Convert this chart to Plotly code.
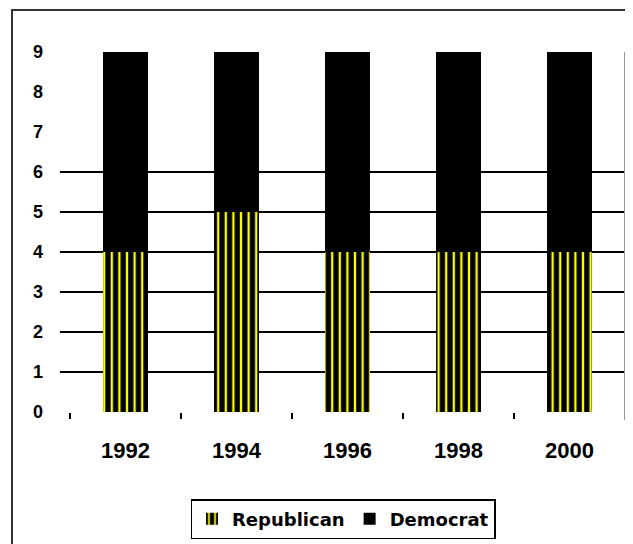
import plotly.graph_objects as go

years = ["1992", "1994", "1996", "1998", "2000"]
republican = [4, 5, 4, 4, 4]
democrat = [5, 4, 5, 5, 5]
y_ticks = [0, 1, 2, 3, 4, 5, 6, 7, 8, 9]
grid_levels = [1, 2, 3, 4, 5, 6]

W, H = 633, 544
OFF = 8  # page body margin
L, R, T, B = 62, 16, 44, 140
pw, ph = W - L - R, H - T - B

def px_x(p):
    return (p - OFF - L) / pw

def px_y(p):
    return (H - B - (p - OFF)) / ph

fig = go.Figure()
fig.add_trace(go.Bar(
    x=years, y=republican, name="Republican",
    marker=dict(color="black", line=dict(width=0),
                pattern=dict(shape="|", fgcolor="#ffff00", bgcolor="black",
                             size=7.6, solidity=0.3, fillmode="replace")),
))
fig.add_trace(go.Bar(
    x=years, y=democrat, name="Democrat",
    marker=dict(color="black", line=dict(width=0)),
))

shapes = []
for g in grid_levels:
    shapes.append(dict(type="line", xref="paper", yref="y", x0=px_x(60), x1=1, y0=g, y1=g,
                       line=dict(color="black", width=2), layer="below"))
# right edge of plot area
shapes.append(dict(type="line", xref="paper", yref="paper", x0=1, x1=1, y0=px_y(420), y1=1,
                   line=dict(color="#999999", width=2)))
# outer chart border
shapes.append(dict(type="rect", xref="paper", yref="paper", x0=px_x(12), x1=px_x(700),
                   y0=px_y(600), y1=px_y(10), line=dict(color="#333333", width=2)))

fig.update_layout(
    width=W, height=H,
    margin=dict(l=L, r=R, t=T, b=B),
    paper_bgcolor="white", plot_bgcolor="white",
    barmode="stack", bargap=0.586,
    showlegend=True,
    legend=dict(orientation="h", x=px_x(343), xanchor="center", y=px_y(519), yanchor="middle",
                bordercolor="black", borderwidth=1.5, bgcolor="white",
                font=dict(family="DejaVu Sans", size=18, color="black", weight="bold"),
                itemwidth=30, traceorder="normal"),
    shapes=shapes,
    font=dict(family="Liberation Sans, Arial", color="black"),
)
fig.update_xaxes(type="category", showgrid=False, showline=False, zeroline=False,
                 ticks="outside", tickson="boundaries", ticklen=6, tickcolor="black", tickwidth=2,
                 ticklabelstandoff=23,
                 tickfont=dict(family="Liberation Sans, Arial", size=22, color="black", weight="bold"))
fig.update_yaxes(range=[0, 9], tickvals=y_ticks, showgrid=False, showline=False, zeroline=False,
                 ticks="", ticklabelstandoff=26,
                 tickfont=dict(family="Liberation Sans, Arial", size=18, color="black", weight="bold"))

fig.write_html("out.html")
